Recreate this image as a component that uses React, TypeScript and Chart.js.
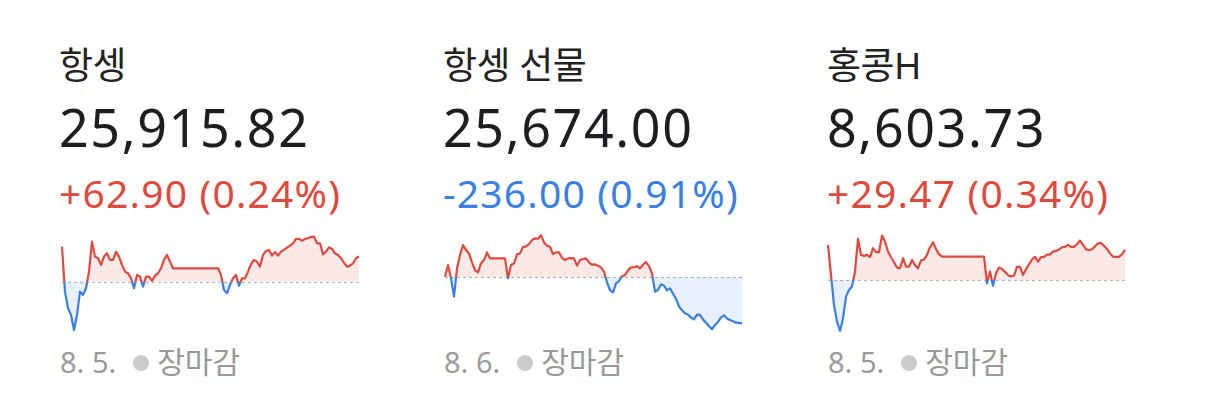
import React, { useEffect, useRef } from "react";
import { Chart, registerables } from "chart.js";

Chart.register(...registerables);

// ---- data (change vs. previous close, in index points) ----
const TITLES = ["항셍", "항셍 선물", "홍콩H"];
const PRICES = ["25,915.82", "25,674.00", "8,603.73"];
const CHANGES = ["+62.90", "-236.00", "+29.47"];
const PERCENTS = ["(0.24%)", "(0.91%)", "(0.34%)"];
const DATES = ["8. 5.", "8. 6.", "8. 5."];
const STATUS = "장마감";

const HSI_CHANGE = [
  87.5, -25, -66.7, -83.3, -120.8, -83.3, -25, -33.3, -16.7, 25,
  100, 62.5, 58.3, 41.7, 62.5, 70.8, 54.2, 54.2, 75, 62.5,
  41.7, 25, 20.8, 8.3, -16.7, 16.7, 12.5, -12.5, 12.5, 12.5,
  1.7, 15, 20.8, 33.3, 54.2, 66.7, 50, 33.3,
  33.3, 33.3, 33.3, 33.3, 33.3, 33.3, 33.3, 33.3, 33.3, 33.3, 33.3, 33.3, 33.3, 33.3, 33.3,
  16.7, -20.8, -29.2, -8.3, 8.3, 16.7, -10, 8.3, 8.3, 25,
  43.3, 54.2, 50, 37.5, 66.7, 76.7, 79.2, 65, 73.3, 65,
  75, 79.2, 85, 90, 95.8, 106.7, 106.7, 101.7, 106.7, 108.3,
  111.7, 112.5, 95.8, 95.8, 68.3, 75, 85.8, 81.7, 70.8, 66.7,
  58.3, 47.5, 37.5, 40, 45.8, 58.3, 62.9,
];

const HSI_FUT_CHANGE = [
  3.4, 63.3, -5.1, -99.2, 46.2, 114.6, 165.9, 140.2, 123.1, 77,
  37.6, 25.7, 71.8, 88.9, 128.3, 97.5, 97.5, 97.5, 97.5, 97.5,
  97.5, -5, 63.3, 71.8, 118, 123.1, 155.6, 159, 171, 191.5,
  200, 198.4, 217.2, 179.6, 162.5, 157.3, 119.7, 128.3, 128.3, 100.9,
  88.9, 97.5, 99.2, 97.5, 59.9, 88.9, 94, 97.5, 77, 65,
  66.7, 59.9, 51.3, 29.1, -25.7, -65, -77, -30.8, -18.8, 5.1,
  12, 35.9, 51.3, 51.3, 58.1, 46.2, 65, 78.7, 58.1, 20.5,
  -73.5, -65, -35.9, -42.8, -66.7, -56.4, -83.8, -111.2, -148.8, -169.3,
  -184.7, -191.5, -206.9, -215.5, -191.5, -193.2, -217.2, -232.6, -251.4, -266.8,
  -244.5, -229.1, -205.2, -194.9, -212, -218.9, -225.7, -232.6, -234.3, -236,
];

const HSCEI_CHANGE = [
  34.4, 4.9, -24.6, -40.9, -50, -37.7, -16.4, -9.8, -6.2, 8.2,
  40.3, 24.6, 23.6, 24.6, 22.3, 31.1, 27.2, 27.2, 43.5, 37.7,
  27.8, 22.3, 17.4, 12.1, 11.5, 21.3, 13.1, 13.1, 19.6, 14.7,
  11.5, 19, 20, 24.6, 32.1, 37, 30.4, 25.2, 22.9,
  22.9, 22.9, 22.9, 22.9, 22.9, 22.9, 22.9, 22.9, 22.9, 22.9, 22.9, 22.9, 22.9, 22.9,
  -3.3, 8.2, -5.6, 6.5, 12.1, 10.8, 7.9, 4.9, 3.3, 4.3,
  12.8, 12.8, 4.9, 10.5, 15.4, 20, 22.6, 18, 22.3, 22.6,
  24.9, 24.9, 27.8, 28.5, 29.8, 32.1, 32.4, 34.4, 32.4, 32.4,
  35, 38.6, 34.4, 30.1, 29.1, 30.1, 33.1, 36, 36.3, 33.4,
  30.4, 25.9, 22.9, 22.6, 22.6, 25.2, 29.47,
];

const SERIES = [HSI_CHANGE, HSI_FUT_CHANGE, HSCEI_CHANGE];
const Y_MIN = [-131, -291, -53];
const Y_MAX = [124, 233, 47];
const UP = [true, false, true];

// ---- styles ----
const RED = "#df4a3f";
const BLUE = "#3a80e4";
const RED_FILL = "rgba(223,74,63,0.12)";
const BLUE_FILL = "rgba(58,128,228,0.12)";
const FONT = '"Noto Sans", "Noto Sans CJK KR", sans-serif';

const baselinePlugin = {
  id: "baseline",
  beforeDatasetsDraw(chart: any) {
    const { ctx, chartArea, scales } = chart;
    const y = Math.round(scales.y.getPixelForValue(0)) + 0.5;
    ctx.save();
    ctx.strokeStyle = "#b9b9b9";
    ctx.lineWidth = 1.2;
    ctx.setLineDash([3, 3]);
    ctx.beginPath();
    ctx.moveTo(chartArea.left, y);
    ctx.lineTo(chartArea.right, y);
    ctx.stroke();
    ctx.restore();
  },
};

function Spark({ data, min, max, left }: { data: number[]; min: number; max: number; left: number }) {
  const ref = useRef<HTMLCanvasElement>(null);
  useEffect(() => {
    if (!ref.current) return;
    const chart = new Chart(ref.current, {
      type: "line",
      data: {
        labels: data.map((_, i) => String(i)),
        datasets: [
          {
            data,
            borderWidth: 2.2,
            pointRadius: 0,
            tension: 0,
            borderJoinStyle: "round",
            borderColor: (c: any) => {
              const ch = c.chart;
              const area = ch.chartArea;
              if (!area) return RED;
              const y0 = ch.scales.y.getPixelForValue(0);
              let t = (y0 - area.top) / (area.bottom - area.top);
              t = Math.max(0, Math.min(1, t));
              const g = ch.ctx.createLinearGradient(0, area.top, 0, area.bottom);
              g.addColorStop(0, RED);
              g.addColorStop(t, RED);
              g.addColorStop(t, BLUE);
              g.addColorStop(1, BLUE);
              return g;
            },
            fill: { target: { value: 0 }, above: RED_FILL, below: BLUE_FILL },
          } as any,
        ],
      },
      options: {
        animation: false,
        responsive: false,
        events: [],
        layout: { padding: { top: 4, bottom: 4, left: 1, right: 1 } },
        plugins: { legend: { display: false }, tooltip: { enabled: false } },
        scales: {
          x: { display: false, offset: false },
          y: { display: false, min, max },
        },
      },
      plugins: [baselinePlugin],
    });
    return () => chart.destroy();
  }, [data, min, max]);
  return (
    <canvas
      ref={ref}
      width={299}
      height={110}
      style={{ position: "absolute", left: left - 1, top: 228, width: 299, height: 110 }}
    />
  );
}

function Panel({ i }: { i: number }) {
  const textLeft = 59 + 384 * i;
  const chartLeft = 62 + 383 * i;
  const color = UP[i] ? RED : BLUE;
  return (
    <>
      <div style={{ position: "absolute", left: textLeft, top: 46, fontSize: 37, lineHeight: "37px", color: "#222", letterSpacing: -0.5, whiteSpace: "nowrap" }}>
        {TITLES[i]}
      </div>
      <div style={{ position: "absolute", left: textLeft, top: 101, fontSize: 52, lineHeight: "52px", color: "#1d1d22", letterSpacing: 1.6, whiteSpace: "nowrap" }}>
        {PRICES[i]}
      </div>
      <div style={{ position: "absolute", left: textLeft, top: 173, fontSize: 39, lineHeight: "39px", color, letterSpacing: 1.2, whiteSpace: "nowrap" }}>
        {CHANGES[i]} {PERCENTS[i]}
      </div>
      <Spark data={SERIES[i]} min={Y_MIN[i]} max={Y_MAX[i]} left={chartLeft} />
      <div style={{ position: "absolute", left: textLeft + 1, top: 347, fontSize: 29, lineHeight: "29px", color: "#9a9a9a", whiteSpace: "nowrap", display: "flex", alignItems: "center" }}>
        <span>{DATES[i]}</span>
        <span style={{ display: "inline-block", width: 16, height: 16, borderRadius: 8, background: "#cccccc", margin: "2px 8px 0 17px" }} />
        <span style={{ fontSize: 30 }}>{STATUS}</span>
      </div>
    </>
  );
}

export default function App() {
  return (
    <div style={{ position: "absolute", left: 0, top: 0, width: 1206, height: 415, background: "#fff", fontFamily: FONT, overflow: "hidden" }}>
      {[0, 1, 2].map((i) => (
        <Panel key={i} i={i} />
      ))}
    </div>
  );
}
